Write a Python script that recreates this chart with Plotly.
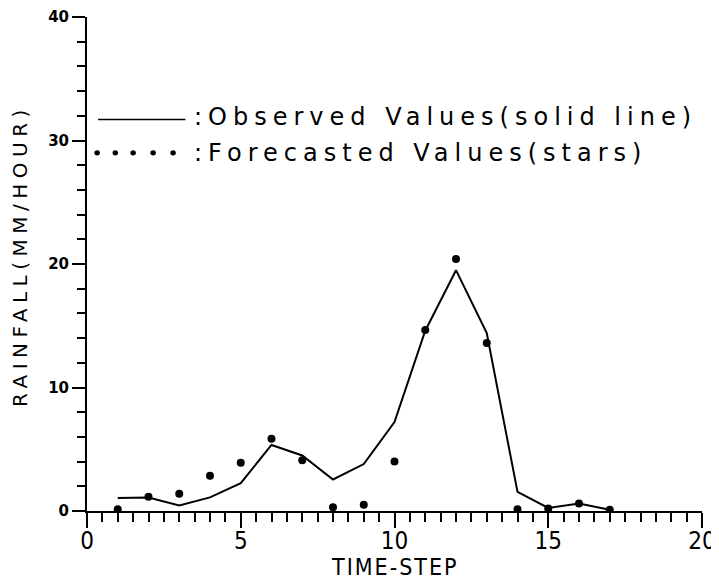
import plotly.graph_objects as go

time_step = [1, 2, 3, 4, 5, 6, 7, 8, 9, 10, 11, 12, 13, 14, 15, 16, 17]
observed = [1.05, 1.1, 0.45, 1.1, 2.25, 5.35, 4.5, 2.55, 3.8, 7.2, 14.6, 19.5, 14.4, 1.55, 0.25, 0.6, 0.1]
forecast = [0.15, 1.15, 1.4, 2.85, 3.9, 5.85, 4.1, 0.3, 0.5, 4.0, 14.65, 20.4, 13.6, 0.15, 0.2, 0.6, 0.1]

x_ticks = [0, 5, 10, 15, 20]
y_ticks = [0, 10, 20, 30, 40]
legend_labels = [":Observed Values(solid line)", ":Forecasted Values(stars)"]
x_title = "TIME-STEP"
y_title = "RAINFALL(MM/HOUR)"

FONT = "DejaVu Sans"
NARROW = "DejaVu Sans Condensed, DejaVu Sans"


def spaced(t, px):
    return '<span style="letter-spacing:%spx">%s</span>' % (px, t)


fig = go.Figure()
fig.add_trace(go.Scatter(x=time_step, y=observed, mode="lines",
                         line=dict(color="black", width=2), showlegend=False))
fig.add_trace(go.Scatter(x=time_step, y=forecast, mode="markers",
                         marker=dict(color="black", size=8), showlegend=False))

# manual legend
shapes = [dict(type="line", xref="x", yref="y", x0=0.36, x1=3.2, y0=31.7, y1=31.7,
               line=dict(color="black", width=1.5))]
for dx in [0.33, 0.92, 1.5, 2.15, 2.8]:
    shapes.append(dict(type="circle", xref="x", yref="y", x0=dx - 0.09, x1=dx + 0.09,
                       y0=29.0 - 0.22, y1=29.0 + 0.22, fillcolor="black",
                       line=dict(color="black", width=0)))
annotations = [
    dict(x=3.4, y=31.9, xref="x", yref="y", text=spaced(legend_labels[0], 6), showarrow=False,
         xanchor="left", yanchor="middle", font=dict(family=FONT, size=24, color="black")),
    dict(x=3.4, y=29.0, xref="x", yref="y", text=spaced(legend_labels[1], 6), showarrow=False,
         xanchor="left", yanchor="middle", font=dict(family=FONT, size=24, color="black")),
    dict(x=0.5, y=-0.113, xref="paper", yref="paper", text=spaced(x_title, 2), showarrow=False,
         xanchor="center", yanchor="middle", font=dict(family=NARROW, size=23, color="black")),
    dict(x=-0.109, y=0.518, xref="paper", yref="paper", text=spaced(y_title, 5.5), showarrow=False,
         textangle=-90, xanchor="center", yanchor="middle",
         font=dict(family=FONT, size=20, color="black")),
]

# page body has an 8px margin: figure is sized so that it fills the 719x581 window
fig.update_layout(
    width=711, height=573,
    margin=dict(l=79, r=17, t=9, b=70),
    paper_bgcolor="white", plot_bgcolor="white",
    shapes=shapes, annotations=annotations,
    xaxis=dict(range=[0, 20], tickvals=x_ticks, ticktext=[str(v) for v in x_ticks],
               automargin=False, ticklabeloverflow="allow", ticklabelstandoff=-8,
               showgrid=False, zeroline=False, showline=True, linecolor="black", linewidth=2,
               ticks="outside", ticklen=15, tickwidth=2, tickcolor="black",
               minor=dict(dtick=0.5, ticks="outside", ticklen=9, tickwidth=2, tickcolor="black"),
               tickfont=dict(family=NARROW, size=24, color="black")),
    yaxis=dict(range=[0, 40], tickvals=y_ticks, ticktext=["<b>%d</b>" % v for v in y_ticks],
               automargin=False, ticklabeloverflow="allow",
               showgrid=False, zeroline=False, showline=True, linecolor="black", linewidth=2,
               ticks="outside", ticklen=13, tickwidth=2, tickcolor="black",
               minor=dict(dtick=2, ticks="outside", ticklen=8, tickwidth=2, tickcolor="black"),
               tickfont=dict(family=FONT, size=15, color="black")),
)

fig.write_html("out.html")
